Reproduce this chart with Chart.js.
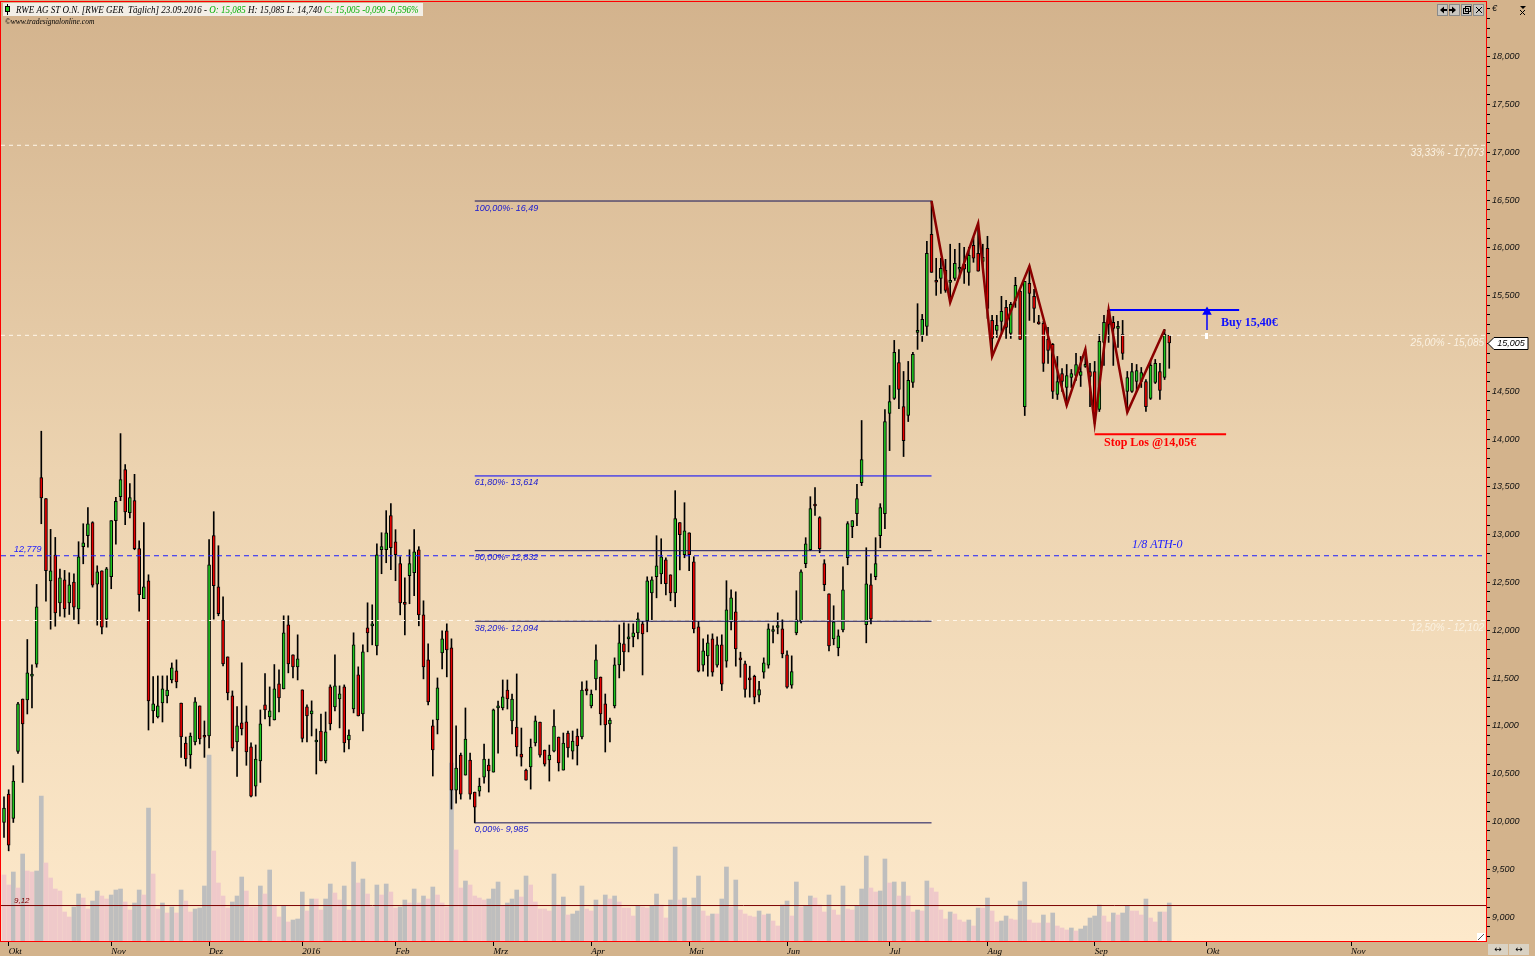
<!DOCTYPE html>
<html><head><meta charset="utf-8">
<script src="https://cdn.jsdelivr.net/npm/chart.js"></script>
<style>html,body{margin:0;padding:0;background:#d3b38c;overflow:hidden}canvas{display:block}</style>
</head><body><canvas id="c" width="1535" height="956"></canvas>
<script>
// ---- data: daily candles RWE AG ST (30.09.2015 - 23.09.2016), index = trading day ----
const opens = [9.989,10.286,10.031,10.733,11.281,11.271,11.520,11.644,13.596,13.376,
12.517,12.786,12.287,12.528,12.287,12.503,12.224,12.874,12.989,13.125,
12.482,12.622,12.116,12.559,13.146,13.397,13.680,13.230,13.355,12.853,
12.329,12.517,11.155,11.093,11.239,11.313,11.480,11.574,11.239,10.820,
10.695,10.831,11.208,10.885,10.894,12.989,12.454,12.105,11.721,11.313,
10.831,11.030,11.041,10.779,10.370,10.632,11.219,11.093,11.061,11.439,
11.386,12.057,11.742,11.617,11.376,11.198,11.124,10.831,10.946,10.632,
11.407,11.198,11.281,11.407,10.852,11.177,11.533,11.124,12.025,12.046,
11.837,12.842,12.842,13.199,12.926,12.696,12.287,12.570,12.601,12.842,
12.161,11.690,10.999,11.061,11.763,11.994,11.816,10.328,10.694,10.485,
10.642,10.307,10.317,10.464,10.590,10.516,11.187,11.187,11.375,11.051,
10.988,10.705,10.537,10.569,10.820,11.040,10.747,10.642,10.736,10.883,
10.537,10.925,10.736,10.893,10.883,11.375,11.208,11.490,11.511,11.229,
11.019,11.208,11.637,11.857,11.910,11.930,11.972,12.067,12.098,12.391,
12.559,12.590,12.737,12.580,12.391,13.125,12.790,13.020,12.716,12.035,
11.634,11.732,11.910,11.634,11.847,11.676,12.088,12.193,11.700,11.648,
11.501,11.519,11.320,11.561,11.634,11.987,12.029,12.015,11.742,11.424,
11.973,12.098,12.696,12.842,13.307,13.178,12.696,12.381,11.910,11.816,
12.004,12.758,13.083,13.219,13.544,12.057,12.476,12.559,12.989,13.219,
14.267,14.424,14.801,14.340,14.246,14.592,15.116,15.084,15.178,16.142,
15.650,15.681,15.765,15.639,15.681,15.776,15.828,15.744,16.027,15.943,
15.859,15.996,15.241,15.137,15.231,15.377,15.105,15.451,15.545,14.340,
15.629,15.493,15.210,15.210,15.042,14.990,14.466,14.686,14.539,14.644,
14.665,14.665,14.760,14.707,14.707,14.309,15.011,15.346,15.220,15.158,
15.095,14.497,14.497,14.602,14.602,14.602,14.424,14.592,14.707,14.644,
15.085];
const highs = [10.258,10.331,10.583,11.246,11.281,11.903,11.637,12.479,14.082,13.376,
13.055,12.971,12.640,12.626,12.601,12.591,12.926,13.114,13.282,13.135,
12.674,12.622,12.657,13.146,13.390,14.057,13.733,13.534,13.631,12.936,
13.125,12.580,11.515,11.522,11.522,11.522,11.658,11.690,11.239,10.883,
10.925,11.295,11.208,11.051,12.947,13.240,12.884,12.350,11.721,11.365,
11.201,11.659,11.208,10.821,10.800,11.166,11.547,11.407,11.641,11.585,
12.151,12.151,11.742,11.952,11.376,11.219,11.261,10.967,11.124,11.145,
11.428,11.742,11.418,11.428,10.957,11.973,11.617,11.847,12.287,12.266,
12.905,13.020,13.251,13.324,13.052,12.769,12.549,12.842,13.052,12.874,
12.308,11.858,11.061,11.501,11.994,12.067,11.910,10.999,10.715,11.187,
10.715,10.307,10.453,10.810,10.652,11.176,11.260,11.480,11.480,11.333,
11.543,10.977,10.548,10.862,11.103,11.040,10.747,10.799,11.166,10.883,
10.925,10.946,10.946,10.967,11.459,11.470,11.375,11.847,11.511,11.333,
11.082,11.711,12.056,12.077,12.067,12.067,12.182,12.098,12.559,12.559,
12.989,12.957,12.758,12.580,13.460,13.125,13.334,13.020,12.769,12.098,
11.910,11.952,11.962,11.931,11.952,12.518,12.423,12.402,11.770,11.676,
11.624,11.530,11.466,11.711,12.067,12.046,12.182,12.109,11.784,11.732,
12.413,12.633,12.968,13.397,13.492,13.188,12.738,12.381,12.256,12.004,
12.664,13.136,13.146,13.527,14.194,12.863,12.591,12.968,13.324,14.309,
14.560,15.032,14.937,14.707,14.812,14.906,15.416,15.304,16.069,16.490,
15.891,15.891,15.880,16.038,15.985,16.048,16.006,16.006,16.111,16.257,
16.038,16.121,15.294,15.294,15.493,15.451,15.430,15.692,15.566,15.650,
15.810,15.566,15.294,15.231,15.168,15.000,14.864,14.738,14.780,14.728,
14.896,14.864,14.938,14.791,14.812,15.095,15.294,15.349,15.283,15.231,
15.241,14.707,14.791,14.780,14.749,14.623,14.812,14.833,14.791,15.147,
15.085];
const lows = [9.832,9.692,9.989,10.712,10.408,11.124,11.187,11.613,13.114,12.304,
12.011,12.042,12.147,12.137,12.165,12.112,12.067,12.695,12.870,12.451,
12.053,11.962,12.032,12.434,12.901,13.355,13.104,13.174,12.842,12.200,
12.329,10.956,11.030,11.082,11.040,11.239,11.449,11.397,10.670,10.579,
10.555,10.799,10.810,10.670,10.768,12.116,12.151,11.627,11.271,10.737,
10.471,10.904,10.587,10.255,10.265,10.408,11.072,10.999,11.061,11.145,
11.386,11.554,11.501,11.480,10.831,10.831,10.894,10.496,10.632,10.611,
10.957,11.156,10.978,10.726,10.758,11.135,11.103,10.946,11.774,11.847,
11.742,12.591,12.706,12.633,12.518,12.161,11.952,12.277,12.361,12.046,
11.491,11.219,10.475,10.915,11.596,11.512,10.129,10.192,10.233,10.485,
10.233,9.985,10.265,10.401,10.307,10.516,10.715,11.166,11.176,10.914,
10.684,10.579,10.432,10.338,10.789,10.673,10.579,10.422,10.726,10.527,
10.537,10.673,10.652,10.590,10.862,11.323,11.187,11.375,11.009,10.726,
10.831,11.187,11.501,11.574,11.773,11.826,11.910,11.532,11.983,12.098,
12.339,12.486,12.370,12.308,12.245,12.632,12.758,12.622,11.972,11.564,
11.571,11.519,11.519,11.613,11.369,11.613,12.004,11.624,11.508,11.300,
11.300,11.230,11.250,11.498,11.603,11.868,11.962,11.711,11.393,11.393,
11.952,12.077,12.654,12.832,13.202,12.811,12.413,11.784,11.847,11.732,
11.983,12.685,12.968,13.094,13.513,11.868,12.067,12.528,12.863,13.062,
13.879,14.414,14.319,13.817,14.183,14.539,14.938,15.021,15.084,15.744,
15.503,15.524,15.535,15.430,15.660,15.681,15.629,15.608,15.849,15.755,
15.797,15.262,14.864,15.063,15.105,15.053,15.053,15.377,15.042,14.246,
15.241,15.220,15.200,14.707,14.791,14.424,14.414,14.497,14.351,14.539,
14.613,14.550,14.750,14.340,14.162,14.288,14.770,15.011,14.770,14.958,
14.833,14.280,14.487,14.497,14.539,14.288,14.414,14.581,14.414,14.623,
14.740];
const closes = [10.139,9.752,10.422,11.229,11.019,11.554,11.530,12.245,13.383,12.622,
12.622,12.182,12.549,12.224,12.476,12.242,12.769,12.915,13.114,12.472,
12.612,12.032,12.643,13.146,13.348,13.575,13.237,13.387,12.853,12.371,
12.454,11.260,11.229,11.208,11.386,11.375,11.606,11.459,10.883,10.653,
10.894,11.250,10.862,10.880,12.685,12.465,12.172,11.648,11.344,10.765,
10.999,10.967,10.726,10.265,10.653,11.020,11.166,11.156,11.386,11.292,
11.973,11.648,11.617,11.700,10.869,11.103,11.156,10.852,10.632,10.936,
11.020,11.418,11.334,10.821,10.904,11.847,11.103,11.774,11.973,12.050,
12.790,12.874,13.020,12.863,12.790,12.287,12.270,12.696,12.821,12.161,
11.617,11.250,10.747,11.397,11.910,11.795,10.328,10.559,10.286,10.862,
10.286,10.150,10.370,10.652,10.527,11.166,11.208,11.302,11.281,11.281,
10.778,10.673,10.432,10.778,11.051,10.694,10.600,10.694,10.998,10.611,
10.820,10.768,10.841,10.789,11.375,11.365,11.333,11.690,11.124,11.009,
11.061,11.637,11.868,11.773,11.930,11.972,12.119,11.962,12.517,12.528,
12.674,12.769,12.486,12.391,13.167,12.999,13.041,12.790,12.014,11.571,
11.784,11.868,11.561,11.847,11.435,12.214,12.339,11.805,11.690,11.380,
11.480,11.300,11.380,11.658,12.015,11.997,12.035,11.753,11.404,11.568,
12.109,12.612,12.905,13.272,13.300,12.853,12.476,11.837,12.088,11.941,
12.423,13.115,13.146,13.377,13.785,12.486,12.119,12.696,13.282,14.183,
14.393,14.906,14.518,13.984,14.613,14.885,15.126,15.252,15.943,15.744,
15.640,15.786,15.556,15.660,15.838,15.785,15.776,15.922,15.891,15.755,
15.901,15.367,15.053,15.189,15.336,15.168,15.409,15.608,15.042,15.650,
15.524,15.367,15.205,14.791,14.927,14.497,14.602,14.602,14.665,14.686,
14.780,14.707,14.770,14.655,14.267,15.021,15.220,15.199,15.158,15.178,
14.896,14.644,14.707,14.717,14.696,14.340,14.770,14.791,14.508,15.095,
15.005];
// volume (x100k shares)
const volumes = [66,56,69,53,87,70,69,70,145,78,
63,52,50,29,24,34,47,43,32,40,
50,45,42,46,51,52,39,31,38,51,
46,133,67,32,38,28,34,28,51,40,
29,32,33,55,186,90,58,45,33,39,
45,64,50,34,34,55,47,71,35,24,
35,19,21,22,49,30,42,42,31,42,
57,48,41,55,31,79,58,62,47,34,
56,46,57,49,33,34,41,38,52,38,
45,42,54,46,38,34,178,91,53,60,
56,45,43,41,42,52,59,35,38,42,
51,44,65,56,39,32,32,30,67,36,
44,26,27,30,55,32,30,41,36,46,
42,45,39,33,33,25,35,34,33,35,
47,36,23,41,94,41,43,34,43,65,
30,25,27,27,42,74,34,61,31,27,
25,24,30,26,27,20,15,36,40,25,
59,34,35,45,43,36,29,46,31,26,
55,32,31,35,52,85,53,49,50,82,
58,59,45,59,45,29,31,30,60,53,
49,31,22,29,27,21,19,21,15,33,
33,43,30,19,20,25,22,21,40,59,
21,18,18,26,18,28,15,13,11,13,
10,12,15,23,25,36,25,19,28,26,
28,35,30,30,26,42,23,19,29,29,38];

// month axis labels (position = trading-day index; future part in calendar days)
const monthLabels = ['Okt','Nov','Dez','2016','Feb','Mrz','Apr','Mai','Jun','Jul','Aug','Sep','Okt','Nov'];
const monthPos    = [1,23,44,64,84,105,126,147,168,190,211,234,258,289];
// price axis major labels
const priceMajor = [9.0,9.5,10.0,10.5,11.0,11.5,12.0,12.5,13.0,13.5,14.0,14.5,15.0,15.5,16.0,16.5,17.0,17.5,18.0];

// Fibonacci retracement (low index 101 -> high index 199)
const fibStart = 101, fibEnd = 199;
const fibValues = [16.49, 13.614, 12.832, 12.094, 9.985];
const fibLabels = ['100,00%- 16,49','61,80%- 13,614','50,00%- 12,832','38,20%- 12,094','0,00%- 9,985'];
// ATH fraction lines
const athValues = [17.073, 15.085, 12.102];
const athLabels = ['33,33% - 17,073','25,00% - 15,085','12,50% - 12,102'];
const athEighth = 12.779;
const lowLine = 9.12;
// zigzag
const zigX = [199,203,209,212,220,228,232,234,237,241,249];
const zigY = [16.49,15.43,16.257,14.864,15.81,14.351,14.938,14.162,15.349,14.28,15.147];
// trade levels
const buyLevel = 15.35, buyFrom = 237, buyTo = 265;
const stopLevel = 14.05, stopFrom = 234, stopTo = 262.2;
const arrowX = 258.1, arrowFrom = 15.14, arrowTo = 15.33;

const N = closes.length;
const idx = Array.from({length: N}, (_, i) => i);
const X_MIN = -0.644, X_MAX = 317.96, Y_MIN = 8.749, Y_MAX = 18.572;

function hLine(x0, x1, y, color, width, dash, order) {
  return {type:'line', data:[{x:x0,y:y},{x:x1,y:y}], yAxisID:'y', borderColor:color, borderWidth:width,
          borderDash:dash||[], pointRadius:0, fill:false, tension:0, order:order};
}

const datasets = [];
datasets.push({type:'bar', data: idx.map(i => ({x:i, y:volumes[i]})), yAxisID:'v',
  backgroundColor: idx.map(i => (i > 0 && volumes[i] > volumes[i-1]) ? '#bebebe' : '#efc9ca'),
  barThickness:4, grouped:false, borderWidth:0, order:30});
datasets.push({type:'bar', data: idx.map(i => ({x:i, y:[lows[i], highs[i]]})), yAxisID:'y',
  backgroundColor:'#000000', barThickness:1, grouped:false, borderWidth:0, order:21});
datasets.push({type:'bar', data: idx.map(i => ({x:i, y:[opens[i], closes[i]]})), yAxisID:'y',
  backgroundColor: idx.map(i => closes[i] >= opens[i] ? '#1fc21f' : '#e60000'),
  borderColor:'#000000', borderWidth:1, borderSkipped:false, barThickness:3, minBarLength:2, grouped:false, order:20});
athValues.forEach(v => datasets.push(hLine(X_MIN, X_MAX, v, '#fff7ea', 1, [4,4], 5)));
datasets.push(hLine(X_MIN, X_MAX, athEighth, '#1c1cff', 1, [5,4], 5));
datasets.push(hLine(X_MIN, X_MAX, lowLine, '#7a0000', 1, [], 5));
fibValues.forEach((v, k) => datasets.push(hLine(fibStart, fibEnd, v, k === 1 ? '#0000ff' : '#14145a', 1, [], 4)));
datasets.push(hLine(buyFrom, buyTo, buyLevel, '#0000ff', 2, [], 3));
datasets.push(hLine(stopFrom, stopTo, stopLevel, '#ff0000', 2, [], 3));
datasets.push({type:'line', data:[{x:arrowX,y:arrowFrom},{x:arrowX,y:arrowTo}], yAxisID:'y', borderColor:'#0000ff',
  borderWidth:1.5, pointRadius:[0,4], pointHoverRadius:0, pointStyle:'triangle', pointBackgroundColor:'#0000ff', pointBorderColor:'#0000ff', order:2});
datasets.push({type:'line', data: zigX.map((x, k) => ({x:x, y:zigY[k]})), yAxisID:'y', borderColor:'#8b0000',
  borderWidth:2.5, pointRadius:0, fill:false, tension:0, order:1});

const bgPlugin = {
  id:'bg',
  beforeDraw(chart) {
    const {ctx, chartArea:a} = chart;
    ctx.save();
    ctx.fillStyle = '#d3b38c';
    ctx.fillRect(0, 0, chart.width, chart.height);
    const g = ctx.createLinearGradient(0, a.top, 0, a.bottom);
    g.addColorStop(0, '#d3b38d');
    g.addColorStop(0.5, '#ecd3b0');
    g.addColorStop(1, '#fde9cb');
    ctx.fillStyle = g;
    ctx.fillRect(a.left, a.top, a.right - a.left, a.bottom - a.top);
    ctx.restore();
  }
};

const overlayPlugin = {
  id:'overlay',
  afterDraw(chart) {
    const {ctx, chartArea:a} = chart;
    const xs = chart.scales.x, ys = chart.scales.y;
    const px = v => xs.getPixelForValue(v), py = v => ys.getPixelForValue(v);
    ctx.save();
    ctx.textBaseline = 'middle';
    // fib labels
    ctx.font = 'italic 9px "Liberation Sans"';
    ctx.fillStyle = '#1818d0';
    ctx.textAlign = 'left';
    fibValues.forEach((v, k) => ctx.fillText(fibLabels[k], px(fibStart), py(v) + 7));
    // ATH labels
    ctx.font = 'italic 10px "Liberation Sans"';
    ctx.fillStyle = '#fbf2e2';
    ctx.textAlign = 'right';
    athValues.forEach((v, k) => ctx.fillText(athLabels[k], a.right - 2, py(v) + 8));
    // 12,779 + 1/8 ATH-0
    ctx.textAlign = 'left';
    ctx.font = 'italic 9px "Liberation Sans"';
    ctx.fillStyle = '#2020ff';
    ctx.fillText('12,779', 14, py(athEighth) - 6);
    ctx.font = 'italic 12px "Liberation Serif"';
    ctx.fillText('1/8 ATH-0', 1132, py(athEighth) - 11);
    // 9,12
    ctx.font = 'italic 8px "Liberation Sans"';
    ctx.fillStyle = '#7a0000';
    ctx.fillText('9,12', 14, py(lowLine) - 5);
    // buy / stop text
    ctx.font = 'bold 12px "Liberation Serif"';
    ctx.fillStyle = '#1010ff';
    ctx.fillText('Buy 15,40\u20ac', 1221, py(buyLevel) + 13);
    ctx.fillStyle = '#ff0000';
    ctx.fillText('Stop Los @14,05\u20ac', 1104, py(stopLevel) + 9);
    // small white marker under the arrow
    ctx.fillStyle = '#ffffff';
    ctx.fillRect(Math.round(px(arrowX)) - 2, Math.round(py(arrowFrom - 0.03)), 3, 6);

    // red frame
    ctx.strokeStyle = '#ff0000';
    ctx.lineWidth = 1;
    ctx.strokeRect(0.5, a.top - 0.5, a.right, a.bottom - a.top + 1);

    // header
    ctx.fillStyle = '#f3efe7';
    ctx.fillRect(3, 3, 420, 13);
    ctx.fillStyle = '#000';
    ctx.fillRect(7, 4, 1, 11);
    ctx.fillStyle = '#1fc21f';
    ctx.fillRect(5, 6, 5, 6);
    ctx.strokeStyle = '#000';
    ctx.strokeRect(5.5, 6.5, 4, 5);
    const last = N - 1;
    const f3 = v => v.toFixed(3).replace('.', ',');
    const chg = closes[last] - closes[last - 1];
    const segs = [
      ['RWE AG ST O.N. [RWE GER  T\u00e4glich] 23.09.2016 - ', '#000000'],
      ['O: ' + f3(opens[last]), '#00b000'],
      [' H: ' + f3(highs[last]) + ' L: ' + f3(lows[last]) + ' ', '#000000'],
      ['C: ' + f3(closes[last]) + ' ' + f3(chg) + ' ' + (chg / closes[last - 1] * 100).toFixed(3).replace('.', ',') + '%', '#00b000']
    ];
    ctx.font = 'italic 9px "Liberation Serif"';
    let total = 0;
    segs.forEach(([t]) => { total += ctx.measureText(t).width; });
    const sx = Math.min(1, 405 / total);
    let tx = 16;
    segs.forEach(([t, c]) => {
      const w = ctx.measureText(t).width * sx;
      ctx.save(); ctx.translate(tx, 10); ctx.scale(sx, 1.1);
      ctx.fillStyle = c; ctx.fillText(t, 0, 0); ctx.restore();
      tx += w;
    });
    ctx.fillStyle = '#000';
    ctx.font = 'italic 7.5px "Liberation Serif"';
    ctx.fillText('\u00a9www.tradesignalonline.com', 5, 22);

    // top-right buttons
    for (let k = 0; k < 4; k++) {
      const bx = 1437 + k * 12;
      ctx.fillStyle = '#c9c6c0';
      ctx.fillRect(bx, 4, 11, 12);
      ctx.strokeStyle = '#8a8a8a';
      ctx.strokeRect(bx + 0.5, 4.5, 10, 11);
    }
    ctx.fillStyle = '#000';
    ctx.beginPath(); ctx.moveTo(1440, 10); ctx.lineTo(1444, 6.5); ctx.lineTo(1444, 13.5); ctx.closePath(); ctx.fill();
    ctx.fillRect(1444, 9, 3, 2);
    ctx.beginPath(); ctx.moveTo(1456, 10); ctx.lineTo(1452, 6.5); ctx.lineTo(1452, 13.5); ctx.closePath(); ctx.fill();
    ctx.fillRect(1449, 9, 3, 2);
    ctx.strokeStyle = '#000';
    ctx.strokeRect(1463.5, 8.5, 5, 5); ctx.strokeRect(1465.5, 6.5, 5, 5);
    ctx.beginPath(); ctx.moveTo(1476, 7); ctx.lineTo(1482, 13); ctx.moveTo(1482, 7); ctx.lineTo(1476, 13); ctx.stroke();
    // top right icon on axis
    ctx.beginPath(); ctx.moveTo(1520, 6); ctx.lineTo(1526, 6); ctx.lineTo(1523, 9); ctx.closePath(); ctx.fill();
    ctx.beginPath(); ctx.moveTo(1520, 10); ctx.lineTo(1525, 15); ctx.moveTo(1525, 10); ctx.lineTo(1520, 15); ctx.stroke();

    // last price tag
    const yl = Math.round(py(closes[last])) + 0.5;
    ctx.beginPath();
    ctx.moveTo(1488, yl); ctx.lineTo(1494, yl - 6); ctx.lineTo(1528, yl - 6); ctx.lineTo(1528, yl + 6); ctx.lineTo(1494, yl + 6); ctx.closePath();
    ctx.fillStyle = '#ffffff'; ctx.fill();
    ctx.strokeStyle = '#000'; ctx.stroke();
    ctx.fillStyle = '#000';
    ctx.font = 'italic 9px "Liberation Sans"';
    ctx.textAlign = 'center';
    ctx.fillText(f3(closes[last]), 1511, yl);

    // bottom-right controls
    ctx.fillStyle = '#ffffff';
    ctx.fillRect(1477, 933, 8, 8);
    ctx.strokeStyle = '#555';
    ctx.beginPath(); ctx.moveTo(1478, 940); ctx.lineTo(1484, 934); ctx.stroke();
    [1488, 1509].forEach(bx => {
      ctx.fillStyle = '#d9d2c4'; ctx.fillRect(bx, 944, 20, 11);
      ctx.fillStyle = '#000'; ctx.font = '9px "DejaVu Sans"'; ctx.fillText('\u2194', bx + 10, 950);
    });
    ctx.restore();
  }
};

const priceTicks = [];
for (let t = 88; t <= 185; t++) priceTicks.push({value: t / 10});

new Chart(document.getElementById('c'), {
  type:'bar',
  data:{datasets: datasets},
  options:{
    responsive:false, animation:false, devicePixelRatio:1,
    layout:{autoPadding:false, padding:{left:1, top:2, right:0, bottom:0}},
    plugins:{legend:{display:false}, tooltip:{enabled:false}},
    scales:{
      x:{type:'linear', min:X_MIN, max:X_MAX, offset:false, position:'bottom',
        afterBuildTicks: s => { s.ticks = monthPos.map(v => ({value:v})); },
        afterFit: s => { s.height = 15; s.paddingLeft = 0; s.paddingRight = 0; },
        ticks:{autoSkip:false, maxRotation:0, minRotation:0, align:'start', padding:0, color:'#000',
          font:{family:'"Liberation Serif"', style:'italic', size:9},
          callback:(v, i) => monthLabels[i]},
        grid:{offset:false, drawOnChartArea:false, drawTicks:true, tickLength:5, color:'#000'},
        border:{display:false}},
      y:{type:'linear', position:'right', min:Y_MIN, max:Y_MAX,
        afterBuildTicks: s => { s.ticks = priceTicks.slice(); },
        afterFit: s => { s.width = 49; s.paddingTop = 0; s.paddingBottom = 0; },
        ticks:{autoSkip:false, padding:2, color:'#111',
          font:{family:'"Liberation Sans"', style:'italic', size:9},
          callback: v => {
            if (Math.abs(v - 18.5) < 1e-6) return '\u20ac';
            const m = priceMajor.find(p => Math.abs(p - v) < 1e-6);
            return m === undefined ? '' : m.toFixed(3).replace('.', ',');
          }},
        grid:{offset:false, drawOnChartArea:false, tickLength:4, color:'#000'},
        border:{display:false}},
      v:{type:'linear', display:false, min:0, max:939}
    }
  },
  plugins:[bgPlugin, overlayPlugin]
});
</script>
</body></html>
